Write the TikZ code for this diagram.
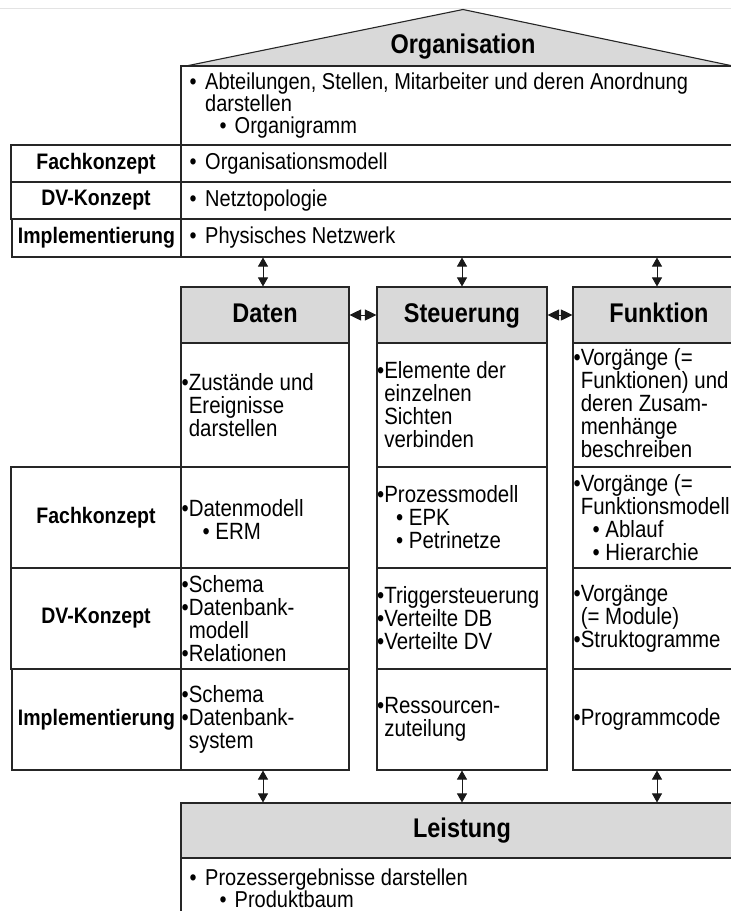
\documentclass[tikz,border=0pt]{standalone}
\usepackage{fontspec}
\setmainfont{Liberation Sans}[FakeStretch=0.87]
\usetikzlibrary{arrows.meta}
\newcommand{\hdfont}{\fontsize{27}{30}\selectfont\bfseries}
\newcommand{\lbfont}{\fontsize{22.4}{24}\selectfont\bfseries}
\newcommand{\orgfont}{\fontsize{23}{22}\selectfont}
\newcommand{\colfont}{\fontsize{23.5}{23}\selectfont}
% continuation line after a bullet, and an indented sub-bullet
\newcommand{\ci}{\hphantom{\textbullet}}
\newcommand{\si}{\hspace*{19pt}\textbullet\ }
\newcommand{\wb}{\textbullet\hspace*{8.5pt}}
\begin{document}
\begin{tikzpicture}[x=1pt,y=-1pt,
  box/.style={draw=black!85, line width=1.1pt, rectangle, inner sep=0pt, fill=white},
  hdr/.style={box, fill=gray!30, font=\hdfont, text height=19.5pt, text depth=5.5pt},
  lab/.style={box, font=\lbfont},
  orgtxt/.style={inner sep=0pt, align=left, font=\orgfont, anchor=west},
  coltxt/.style={inner sep=0pt, align=left, font=\colfont, anchor=west},
  dbl/.style={{Triangle[width=10pt,length=9pt]}-{Triangle[width=10pt,length=9pt]}, line width=0.9pt, draw=black!90},
  dblh/.style={{Triangle[width=11pt,length=11.5pt]}-{Triangle[width=11pt,length=11.5pt]}, line width=0.9pt, draw=black!90}]
\useasboundingbox (0,0) rectangle (731,911);
\clip (0,0) rectangle (731,911);
\fill[white] (0,0) rectangle (731,911);
\draw[gray!22, line width=1pt] (0,8) -- (731,8);

% ---------- Organisation (roof and rows) ----------
\filldraw[fill=gray!30, draw=black!85, line width=1.1pt] (186,66) -- (463,9.5) -- (733,66);
\node[font=\hdfont] (orgT) at (463,47) {Organisation};
\node[box, minimum width=570pt, minimum height=79pt] (orgD) at (466,105.5) {};
\node[orgtxt] (orgDt) at (189.5,106) {\wb Abteilungen, Stellen, Mitarbeiter und deren Anordnung\\
  \hspace*{15.5pt}darstellen\\
  \hspace*{30pt}\textbullet\hspace*{8pt}Organigramm};

\node[box, minimum width=570pt, minimum height=37pt] (oF) at (466,163.5) {};
\node[box, minimum width=570pt, minimum height=37pt] (oD) at (466,200.5) {};
\node[box, minimum width=570pt, minimum height=38pt] (oI) at (466,238) {};
\node[lab, minimum width=170pt, minimum height=37pt] (lF) at (96,163.5) {Fachkonzept};
\node[lab, minimum width=170pt, minimum height=37pt] (lD) at (96,200.5) {DV-Konzept};
\node[lab, minimum width=169pt, minimum height=38pt] (lI) at (96.5,238) {Implementierung};
\node[orgtxt] (oFt) at (189.5,164) {\wb Organisationsmodell};
\node[orgtxt] (oDt) at (189.5,201) {\wb Netztopologie};
\node[orgtxt] (oIt) at (189.5,238) {\wb Physisches Netzwerk};

% ---------- three views: headers ----------
\node[hdr, minimum width=168pt, minimum height=56pt] (hD) at (265,315) {Daten};
\node[hdr, minimum width=170pt, minimum height=56pt] (hS) at (462,315) {Steuerung};
\node[hdr, minimum width=172pt, minimum height=56pt] (hF) at (659,315) {Funktion};

% ---------- row labels ----------
\node[lab, minimum width=170pt, minimum height=101pt] (rF) at (96,517.5) {Fachkonzept};
\node[lab, minimum width=170pt, minimum height=101pt] (rD) at (96,618.5) {DV-Konzept};
\node[lab, minimum width=169pt, minimum height=101pt] (rI) at (96.5,719.5) {Implementierung};

% ---------- Daten column ----------
\node[box, minimum width=168pt, minimum height=124pt] (d0) at (265,405) {};
\node[box, minimum width=168pt, minimum height=101pt] (d1) at (265,517.5) {};
\node[box, minimum width=168pt, minimum height=101pt] (d2) at (265,618.5) {};
\node[box, minimum width=168pt, minimum height=101pt] (d3) at (265,719.5) {};
\node[coltxt] (d0t) at ([xshift=1pt]d0.west) {\textbullet Zustände und\\ \ci Ereignisse\\ \ci darstellen};
\node[coltxt] (d1t) at ([xshift=1pt,yshift=-2pt]d1.west) {\textbullet Datenmodell\\ \hspace*{2pt}\si ERM};
\node[coltxt] (d2t) at ([xshift=1pt]d2.west) {\textbullet Schema\\ \textbullet Datenbank-\\ \ci modell\\ \textbullet Relationen};
\node[coltxt] (d3t) at ([xshift=1pt]d3.west) {\textbullet Schema\\ \textbullet Datenbank-\\ \ci system};

% ---------- Steuerung column ----------
\node[box, minimum width=170pt, minimum height=124pt] (s0) at (462,405) {};
\node[box, minimum width=170pt, minimum height=101pt] (s1) at (462,517.5) {};
\node[box, minimum width=170pt, minimum height=101pt] (s2) at (462,618.5) {};
\node[box, minimum width=170pt, minimum height=101pt] (s3) at (462,719.5) {};
\node[coltxt] (s0t) at ([xshift=0.5pt]s0.west) {\textbullet Elemente der\\ \ci einzelnen\\ \ci Sichten\\ \ci verbinden};
\node[coltxt] (s1t) at ([xshift=0.5pt]s1.west) {\textbullet Prozessmodell\\ \si EPK\\ \si Petrinetze};
\node[coltxt] (s2t) at ([xshift=0.5pt]s2.west) {\textbullet Triggersteuerung\\ \textbullet Verteilte DB\\ \textbullet Verteilte DV};
\node[coltxt] (s3t) at ([xshift=0.5pt]s3.west) {\textbullet Ressourcen-\\ \ci zuteilung};

% ---------- Funktion column ----------
\node[box, minimum width=172pt, minimum height=124pt] (f0) at (659,405) {};
\node[box, minimum width=172pt, minimum height=101pt] (f1) at (659,517.5) {};
\node[box, minimum width=172pt, minimum height=101pt] (f2) at (659,618.5) {};
\node[box, minimum width=172pt, minimum height=101pt] (f3) at (659,719.5) {};
\node[coltxt] (f0t) at ([xshift=1pt,yshift=2pt]f0.west) {\textbullet Vorgänge (=\\ \ci Funktionen) und\\ \ci deren Zusam-\\ \ci menhänge\\ \ci beschreiben};
\node[coltxt] (f1t) at ([xshift=1pt]f1.west) {\textbullet Vorgänge (=\\ \ci Funktionsmodell\\ \si Ablauf\\ \si Hierarchie};
\node[coltxt] (f2t) at ([xshift=1pt]f2.west) {\textbullet Vorgänge\\ \ci (= Module)\\ \textbullet Struktogramme};
\node[coltxt] (f3t) at ([xshift=1pt]f3.west) {\textbullet Programmcode};

% ---------- Leistung ----------
\node[hdr, minimum width=570pt, minimum height=55pt] (hL) at (466,830.5) {};
\node[font=\hdfont, text height=19.5pt, text depth=5.5pt] (hLt) at (462,830.5) {Leistung};
\node[box, minimum width=570pt, minimum height=72pt] (bL) at (466,894) {};
\node[orgtxt] (bLt) at (189.5,888.5) {\wb Prozessergebnisse darstellen\\
  \hspace*{30pt}\textbullet\hspace*{8pt}Produktbaum};

% ---------- connections ----------
\draw[dbl] ([xshift=-2pt]hD.north) -- ([xshift=-2pt]hD.north |- oI.south);
\draw[dbl] (hS.north) -- (hS.north |- oI.south);
\draw[dbl] ([xshift=-2pt]hF.north) -- ([xshift=-2pt]hF.north |- oI.south);
\draw[dblh] (hD.east) -- (hS.west);
\draw[dblh] (hS.east) -- (hF.west);
\draw[dbl] ([xshift=-2pt]d3.south) -- ([xshift=-2pt]d3.south |- hL.north);
\draw[dbl] (s3.south) -- (s3.south |- hL.north);
\draw[dbl] ([xshift=-2pt]f3.south) -- ([xshift=-2pt]f3.south |- hL.north);
\end{tikzpicture}
\end{document}
